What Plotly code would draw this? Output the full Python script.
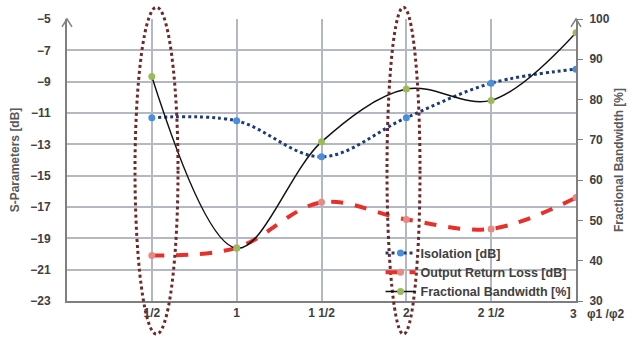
import plotly.graph_objects as go

x_vals = [0.5, 1, 1.5, 2, 2.5, 3]
x_labels = ["1/2", "1", "1 1/2", "2", "2 1/2", "3"]
isolation = [-11.3, -11.5, -13.8, -11.3, -9.1, -8.2]
return_loss = [-20.1, -19.6, -16.7, -17.8, -18.4, -16.4]
bandwidth = [85.7, 43.1, 69.5, 82.6, 79.8, 96.6]

grid_c = "#b4b8c2"
axis_c = "#7f7f7f"
txt_c = "#404040"
font_f = "Liberation Sans"

fig = go.Figure()
fig.add_trace(go.Scatter(
    x=x_vals, y=isolation, name="Isolation [dB]", mode="lines+markers",
    line=dict(color="#1f3a7a", width=3, dash="dot", shape="spline"),
    marker=dict(color="#4a8fdc", size=7), yaxis="y"))
fig.add_trace(go.Scatter(
    x=x_vals, y=return_loss, name="Output Return Loss [dB]", mode="lines+markers",
    line=dict(color="#e8302a", width=4, dash="dash", shape="spline"),
    marker=dict(color="#e58a84", size=7), yaxis="y"))
fig.add_trace(go.Scatter(
    x=x_vals, y=bandwidth, name="Fractional Bandwidth [%]", mode="lines+markers",
    line=dict(color="#111111", width=1.5, shape="spline"),
    marker=dict(color="#9bbb59", size=7), yaxis="y2"))

W, H = 638, 339
L, R, T, B = 67, 62, 12, 38
pw, ph = W - L - R, H - T - B

def px(xp):
    return (xp - L) / pw

def py(yp):
    return (H - B - yp) / ph

shapes = []
# dotted ellipses
for x0, x1 in [(135, 178), (387, 420)]:
    shapes.append(dict(type="circle", xref="paper", yref="paper",
                       x0=px(x0), x1=px(x1), y0=py(335), y1=py(0),
                       line=dict(color="#6e2a2a", width=3, dash="dot")))
# arrow heads on axes tops
for xa in [L, W - R]:
    shapes.append(dict(type="path", xref="paper", yref="paper",
                       path=f"M {px(xa-5)} {py(20)} L {px(xa)} {py(T)} L {px(xa+5)} {py(20)}",
                       line=dict(color=axis_c, width=1.5)))

fig.update_layout(
    width=W, height=H, margin=dict(l=L, r=R, t=T, b=B),
    paper_bgcolor="white", plot_bgcolor="white",
    font=dict(family=font_f, color=txt_c, size=12),
    showlegend=True,
    legend=dict(x=0.616, y=0.222, xanchor="left", yanchor="top",
                bgcolor="rgba(0,0,0,0)", font=dict(size=12.5, weight="bold", color=txt_c),
                tracegroupgap=0, itemwidth=30),
    xaxis=dict(range=[0, 3], tickmode="array", tickvals=x_vals[:-1], ticktext=x_labels[:-1],
               showgrid=True, gridcolor=grid_c, gridwidth=2,
               showline=True, linecolor=axis_c, linewidth=2, ticks="",
               tickfont=dict(size=12, weight="bold", color=txt_c), zeroline=False),
    yaxis=dict(range=[-23, -5], dtick=2, tick0=-5, showgrid=True, gridcolor=grid_c, gridwidth=2,
               showline=True, linecolor=axis_c, linewidth=2, ticks="", zeroline=False,
               tickfont=dict(size=12, weight="bold", color=txt_c), ticklabelstandoff=12,
               title=dict(text="S-Parameters [dB]", font=dict(size=12, weight="bold", color="#595959"), standoff=8)),
    yaxis2=dict(range=[30, 100], dtick=10, overlaying="y", side="right", showgrid=False,
                showline=True, linecolor=axis_c, linewidth=2, ticks="outside", ticklen=5,
                tickcolor=axis_c, zeroline=False,
                tickfont=dict(size=12, weight="bold", color=txt_c), ticklabelstandoff=4,
                title=dict(text="Fractional Bandwidth [%]", font=dict(size=12, weight="bold", color="#595959"), standoff=6)),
    shapes=shapes,
    annotations=[
        dict(xref="paper", yref="paper", x=px(573), y=py(314), xanchor="center", yanchor="middle",
             text=x_labels[-1], showarrow=False, font=dict(size=12, weight="bold", color=txt_c)),
        dict(xref="paper", yref="paper", x=px(585), y=py(314), xanchor="left", yanchor="middle",
             text="φ1 /φ2", showarrow=False, font=dict(size=12, weight="bold", color=txt_c)),
    ],
)
fig.write_html("out.html")
